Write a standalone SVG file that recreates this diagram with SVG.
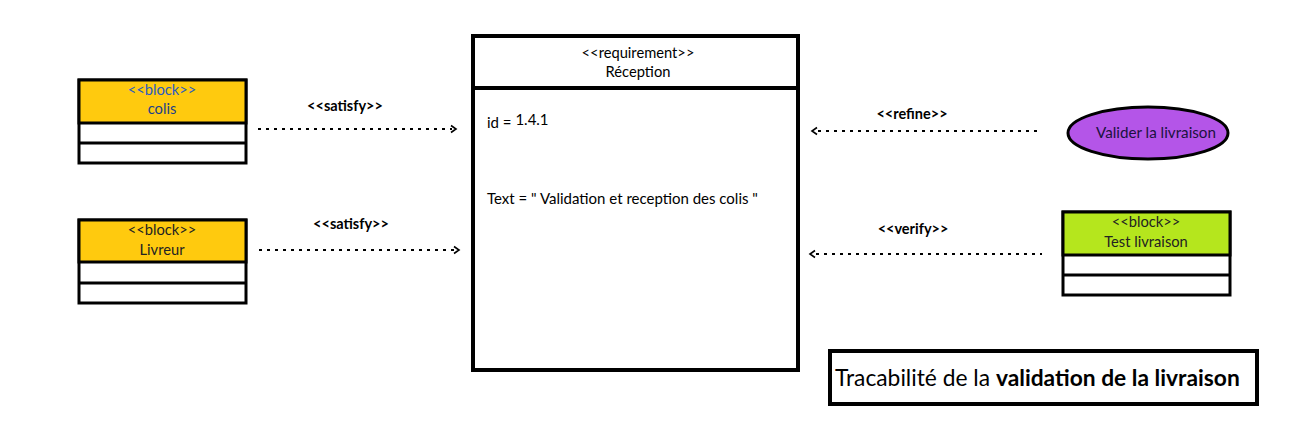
<svg xmlns="http://www.w3.org/2000/svg" width="1315" height="425" viewBox="0 0 1315 425">
<style>
text{font-family:Lato,"Open Sans","Liberation Sans",sans-serif;}
.box{stroke:#000;stroke-width:3;}
.t{font-size:14.7px;text-anchor:middle;}
.lbl{font-size:14.5px;font-weight:bold;text-anchor:middle;fill:#000;}
.dash{stroke:#000;stroke-width:2;stroke-dasharray:3,5;fill:none;}
.head{stroke:#000;stroke-width:1.6;fill:none;}
</style>
<rect width="1315" height="425" fill="#fff"/>
<g id="colis">
<rect class="box" x="79" y="80" width="167" height="83" fill="#fff"/>
<rect class="box" x="79" y="80" width="167" height="43" fill="#FFCA0E"/>
<line class="box" x1="79" y1="143" x2="246" y2="143"/>
<text class="t" x="162" y="95" fill="#2a5bc0">&lt;&lt;block&gt;&gt;</text>
<text class="t" x="162" y="114" fill="#1d3f8a">colis</text>
</g>
<g id="livreur">
<rect class="box" x="79" y="220" width="167" height="83" fill="#fff"/>
<rect class="box" x="79" y="220" width="167" height="42" fill="#FFCA0E"/>
<line class="box" x1="79" y1="283" x2="246" y2="283"/>
<text class="t" x="162" y="235" fill="#222">&lt;&lt;block&gt;&gt;</text>
<text class="t" x="162" y="255" fill="#222">Livreur</text>
</g>
<g id="reception">
<rect x="473" y="36" width="325" height="334" fill="#fff" stroke="#000" stroke-width="4"/>
<line x1="473" y1="88" x2="798" y2="88" stroke="#000" stroke-width="4"/>
<text class="t" x="638" y="58" font-size="13.6">&lt;&lt;requirement&gt;&gt;</text>
<text class="t" x="638" y="77" font-size="14.8">Réception</text>
<text x="487" y="128" font-size="15">id = <tspan dy="-3">1.4.1</tspan></text>
<text x="487" y="204" font-size="15">Text = " Validation et reception des colis "</text>
</g>
<g id="valider">
<ellipse cx="1148" cy="133" rx="80" ry="26" fill="#B455E8" stroke="#000" stroke-width="3"/>
<text x="1156" y="138" font-size="15.2" text-anchor="middle" fill="#1a1240">Valider la livraison</text>
</g>
<g id="test">
<rect class="box" x="1063" y="212" width="167" height="83" fill="#fff"/>
<rect class="box" x="1063" y="212" width="167" height="43" fill="#B5E61D"/>
<line class="box" x1="1063" y1="275" x2="1230" y2="275"/>
<text class="t" x="1146" y="227" fill="#222">&lt;&lt;block&gt;&gt;</text>
<text class="t" x="1146" y="247" fill="#222">Test livraison</text>
</g>
<g id="titre">
<rect x="830" y="351" width="427" height="53" fill="#fff" stroke="#000" stroke-width="4"/>
<text x="835" y="386" font-size="22.8">Tracabilité de la <tspan font-weight="bold">validation de la livraison</tspan></text>
</g>
<g id="connectors">
<line class="dash" x1="258" y1="129" x2="452" y2="129"/>
<polyline class="head" points="451,125.5 456,129 451,132.5"/>
<text class="lbl" x="345" y="111">&lt;&lt;satisfy&gt;&gt;</text>
<line class="dash" x1="259" y1="250" x2="455" y2="250"/>
<polyline class="head" points="454,246.5 459,250 454,253.5"/>
<text class="lbl" x="351" y="229">&lt;&lt;satisfy&gt;&gt;</text>
<line class="dash" x1="818" y1="131" x2="1042" y2="131"/>
<polyline class="head" points="817,127.5 812,131 817,134.5"/>
<text class="lbl" x="912" y="119">&lt;&lt;refine&gt;&gt;</text>
<line class="dash" x1="816" y1="254" x2="1042" y2="254"/>
<polyline class="head" points="815,250.5 810,254 815,257.5"/>
<text class="lbl" x="913" y="234">&lt;&lt;verify&gt;&gt;</text>
</g>
</svg>
